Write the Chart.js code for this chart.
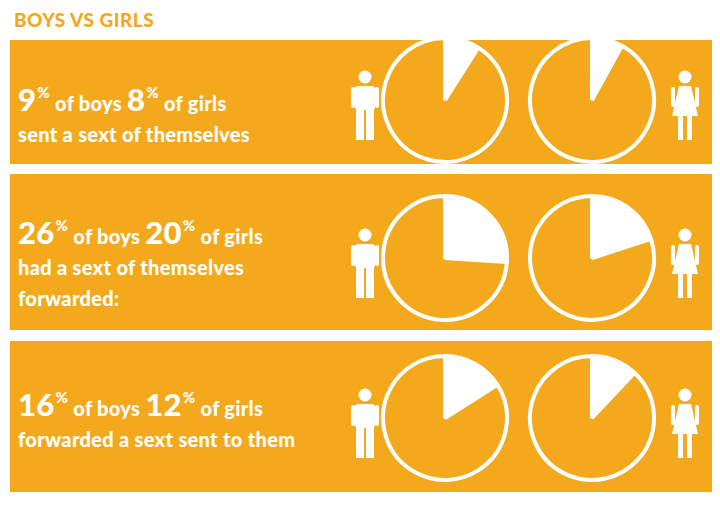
<!DOCTYPE html>
<html><head><meta charset="utf-8">
<script src="https://cdn.jsdelivr.net/npm/chart.js@4"></script>
<style>
body{margin:0;width:720px;height:506px;background:#fff;position:relative;font-family:Lato,"Open Sans",sans-serif;overflow:hidden}
.title{position:absolute;left:14px;top:8px;color:#F2A81E;font-weight:900;font-size:19px;letter-spacing:0.5px}
.panel{position:absolute;left:10px;width:702px;background:#F4A91D}
.txt{position:absolute;left:8px;color:#fff;font-weight:900;font-size:20px;line-height:31px;letter-spacing:0.3px}
.big{font-size:31px}
sup{font-size:15px;vertical-align:13px;margin-left:1px}
canvas{position:absolute;width:136px!important;height:136px!important}
svg{position:absolute}
</style></head><body>
<div class="title">BOYS VS GIRLS</div>
<div class="panel" style="top:40px;height:124px"></div>
<div class="panel" style="top:174px;height:156px"></div>
<div class="panel" style="top:341px;height:151px"></div>
<div id="root"></div>
<script>
const rowLabels=[["sent a sext of themselves"],["had a sext of themselves","forwarded:"],["forwarded a sext sent to them"]];
const boysPct=[9,26,16];
const girlsPct=[8,20,12];
const rowCenters=[100,258,418];
const textTops=[77,210,382];
const root=document.getElementById('root');
function boy(cx,cy){return `<svg style="left:${cx-14}px;top:${cy-35}px" width="28" height="70" viewBox="0 0 28 70" fill="#fff"><circle cx="14" cy="7" r="6.5"/><rect x="4" y="16" width="20" height="24" rx="3"/><rect x="0" y="17" width="4" height="21" rx="2"/><rect x="24" y="17" width="4" height="21" rx="2"/><rect x="5" y="38" width="8" height="32"/><rect x="15" y="38" width="8" height="32"/></svg>`;}
function girl(cx,cy){return `<svg style="left:${cx-14}px;top:${cy-35}px" width="28" height="70" viewBox="0 0 28 70" fill="#fff"><circle cx="14" cy="7" r="6.5"/><path d="M8 16h12l7 30H1z"/><rect x="0" y="17" width="4" height="20" rx="2"/><rect x="24" y="17" width="4" height="20" rx="2"/><rect x="7" y="46" width="5" height="24"/><rect x="16" y="46" width="5" height="24"/></svg>`;}
let html='';
for(let i=0;i<3;i++){
  const lines=rowLabels[i];
  html+=`<div class="txt" style="top:${textTops[i]}px;left:18px"><span class="big">${boysPct[i]}</span><sup>%</sup> of boys <span class="big">${girlsPct[i]}</span><sup>%</sup> of girls<br>${lines.join('<br>')}</div>`;
  html+=boy(365,rowCenters[i]+5)+girl(685,rowCenters[i]+5);
  html+=`<div style="position:absolute;left:377px;top:${rowCenters[i]-68}px;width:136px;height:136px"><canvas id="b${i}" width="136" height="136"></canvas></div>`;
  html+=`<div style="position:absolute;left:524px;top:${rowCenters[i]-68}px;width:136px;height:136px"><canvas id="g${i}" width="136" height="136"></canvas></div>`;
}
root.innerHTML=html;
function pie(id,p){
  new Chart(document.getElementById(id),{type:'pie',
    data:{datasets:[{data:[p,100-p],backgroundColor:['#fff','#F4A91D'],borderColor:'#fff',borderWidth:4}]},
    options:{responsive:false,animation:false,layout:{padding:4},plugins:{legend:{display:false},tooltip:{enabled:false}}}});
}
for(let i=0;i<3;i++){pie('b'+i,boysPct[i]);pie('g'+i,girlsPct[i]);}
</script>
</body></html>
